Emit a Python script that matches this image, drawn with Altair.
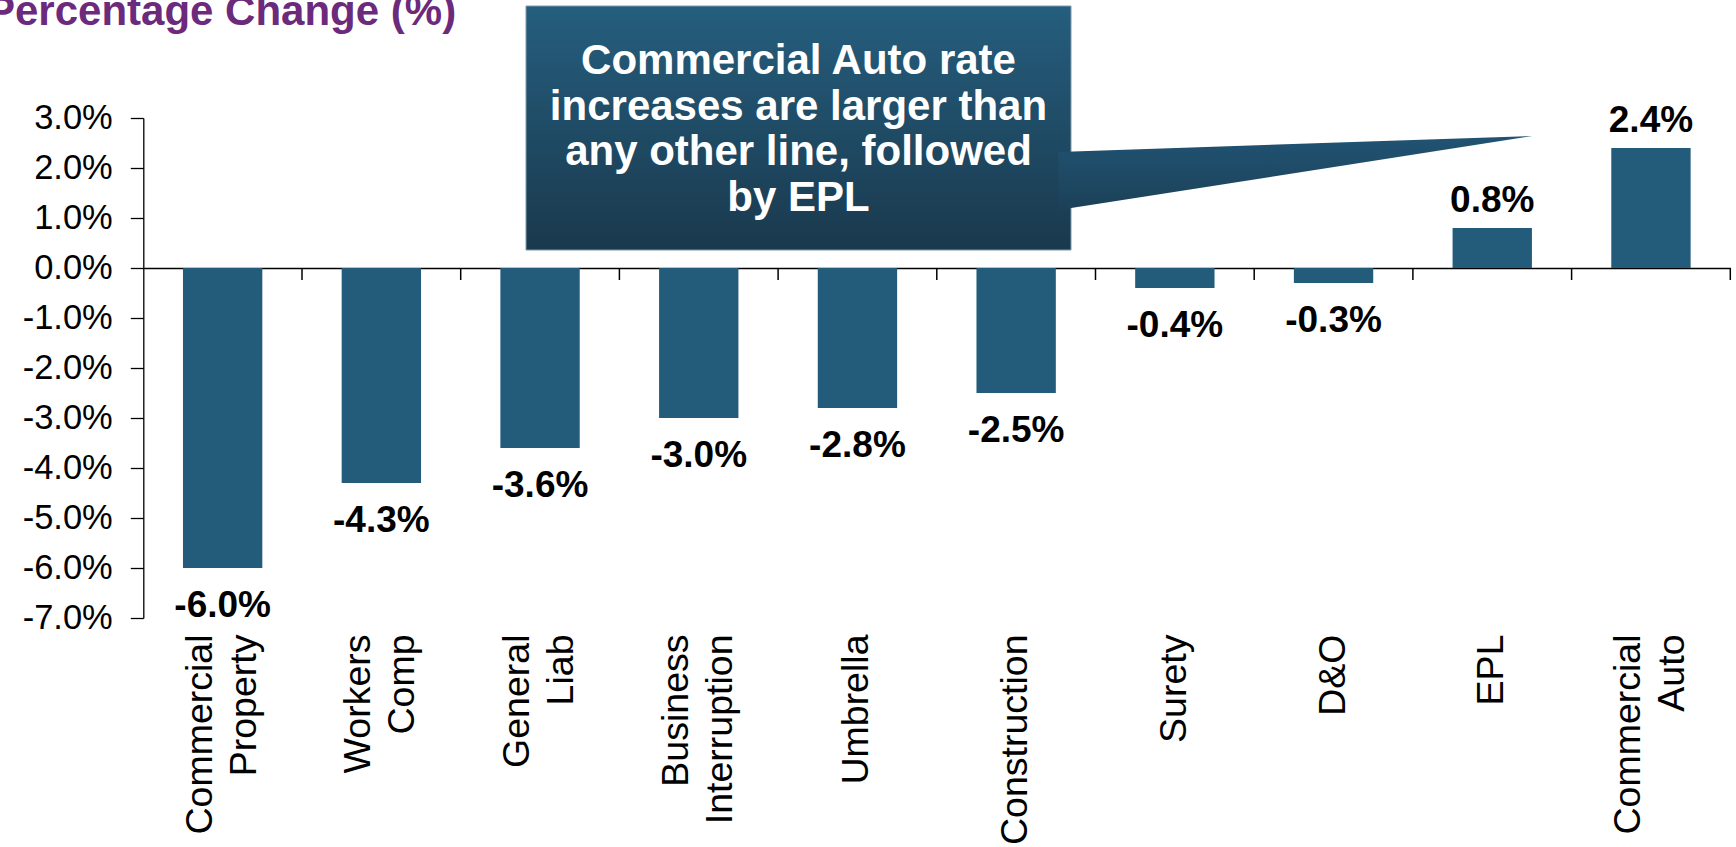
import altair as alt
import pandas as pd

# ---- data ----
categories = ["Commercial\nProperty", "Workers\nComp", "General\nLiab", "Business\nInterruption",
              "Umbrella", "Construction", "Surety", "D&O", "EPL", "Commercial\nAuto"]
changes = [-6.0, -4.3, -3.6, -3.0, -2.8, -2.5, -0.4, -0.3, 0.8, 2.4]
y_ticks = [3, 2, 1, 0, -1, -2, -3, -4, -5, -6, -7]
title_text = "Percentage Change (%)"
callout_lines = ["Commercial Auto rate", "increases are larger than",
                 "any other line, followed", "by EPL"]

df = pd.DataFrame({"line": categories, "change": changes})
one = pd.DataFrame({"k": [0]})

W, H = 1587, 500
STEP = W / len(categories)
FONT = "Liberation Sans"
BAR = "#235b7a"
INK = "#000000"

x_scale = alt.Scale(paddingInner=0.5, paddingOuter=0.25)
x_enc = alt.X(
    "line:N", sort=categories, scale=x_scale,
    axis=alt.Axis(
        title=None, orient="bottom", offset=-350,
        domain=True, domainColor=INK, domainWidth=1.3,
        ticks=False,
        labelAngle=-90, labelAlign="right", labelBaseline="middle", labelPadding=366,
        labelFont=FONT, labelFontSize=37.5, labelColor=INK, labelLineHeight=44,
        labelOffset={"condition": {"test": "indexof(datum.value, '\\n') >= 0",
                                   "value": -22},
                     "value": 0},
        labelExpr="split(datum.label, '\\n')", labelLimit=0,
    ),
)
y_enc = alt.Y(
    "change:Q",
    scale=alt.Scale(domain=[-7, 3], nice=False, zero=False),
    axis=alt.Axis(
        title=None, values=y_ticks, grid=False,
        labelExpr="(datum.value < 0 ? '-' : '') + format(abs(datum.value), '.1f') + '%'",
        domain=True, domainColor=INK, domainWidth=1.3,
        ticks=True, tickSize=13, tickColor=INK, tickWidth=1.3,
        labelFont=FONT, labelFontSize=34.5, labelColor=INK, labelPadding=18,
    ),
)

base = alt.Chart(df)
bars = base.mark_bar(color=BAR).encode(x=x_enc, y=y_enc, y2=alt.datum(0))

# category-boundary ticks hanging below the zero line (band end + half the gap)
cat_ticks = base.mark_rule(color=INK, strokeWidth=1.5, xOffset=STEP / 4).encode(
    x=alt.X("line:N", sort=categories, bandPosition=1),
    y=alt.datum(0), y2=alt.datum(-0.24),
)

lab_fmt = "(datum.change < 0 ? '-' : '') + format(abs(datum.change), '.1f') + '%'"
pos_labels = base.transform_filter("datum.change >= 0").transform_calculate(lab=lab_fmt).mark_text(
    font=FONT, fontSize=37, fontWeight="bold", color=INK, baseline="alphabetic", dy=-16
).encode(x=alt.X("line:N", sort=categories), y="change:Q", text="lab:N")
neg_labels = base.transform_filter("datum.change < 0").transform_calculate(lab=lab_fmt).mark_text(
    font=FONT, fontSize=37, fontWeight="bold", color=INK, baseline="top", dy=20
).encode(x=alt.X("line:N", sort=categories), y="change:Q", text="lab:N")

box_grad = alt.Gradient(
    gradient="linear", x1=0, y1=0, x2=0, y2=1,
    stops=[alt.GradientStop(color="#255e7e", offset=0),
           alt.GradientStop(color="#1a394d", offset=1)],
)
tri_grad = alt.Gradient(
    gradient="linear", x1=0, y1=0, x2=0, y2=1,
    stops=[alt.GradientStop(color="#215373", offset=0),
           alt.GradientStop(color="#1c4158", offset=1)],
)

callout_box = alt.Chart(one).mark_rect(
    color=box_grad, stroke="#7f9bab", strokeWidth=1
).encode(x=alt.value(382.7), x2=alt.value(927.7), y=alt.value(-112), y2=alt.value(132))

callout_pointer = alt.Chart(one).mark_point(
    shape="M 0 0 L 474 -16 L 0 58 Z", size=4, filled=True, opacity=1,
    color=tri_grad, strokeWidth=0
).encode(x=alt.value(915), y=alt.value(34))

callout_text = alt.Chart(one).mark_text(
    text=callout_lines, font=FONT, fontSize=42, fontWeight="bold", color="#ffffff",
    align="center", baseline="alphabetic", lineHeight=45.7
).encode(x=alt.value(655.2), y=alt.value(-44))

title_mark = alt.Chart(one).mark_text(
    text=title_text, font=FONT, fontSize=42, fontWeight="bold", color="#6b2a7c",
    align="left", baseline="alphabetic"
).encode(x=alt.value(-156.3), y=alt.value(-93))

chart = alt.layer(
    bars, cat_ticks, pos_labels, neg_labels, callout_box, callout_pointer, callout_text, title_mark
).properties(
    width=W, height=H, background="#ffffff",
    autosize=alt.AutoSizeParams(type="none"),
    padding={"left": 143.3, "top": 118, "right": 5.7, "bottom": 229},
).configure_view(strokeWidth=0, stroke="transparent")

chart.save("out.html", embed_options={"renderer": "svg", "actions": False})
